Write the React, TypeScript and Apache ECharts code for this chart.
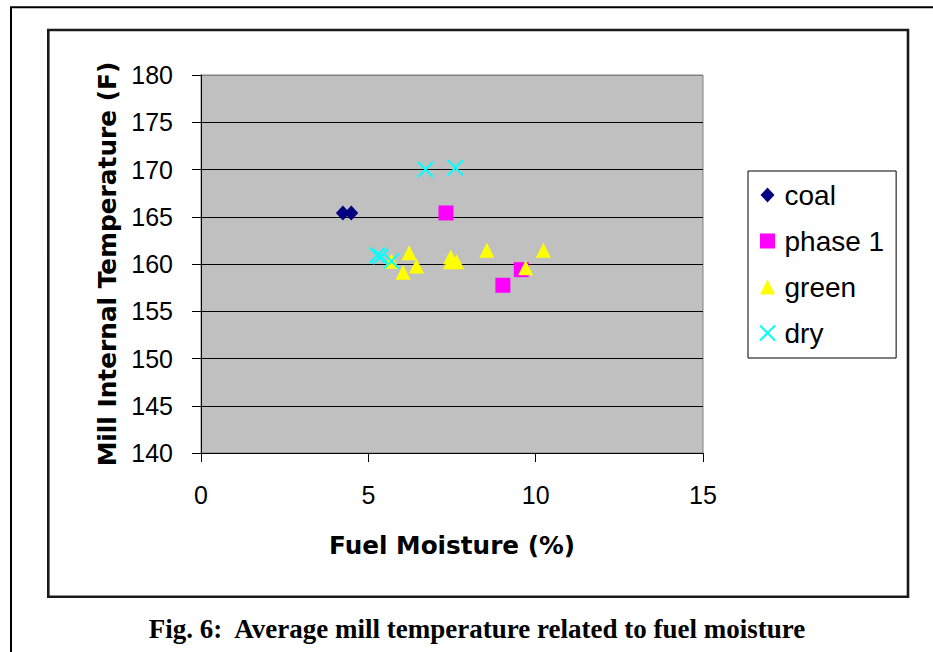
import React, { useEffect, useRef } from "react";
import * as echarts from "echarts";

// ---- data ----
const xTicks = [0, 5, 10, 15];
const yTicks = [140, 145, 150, 155, 160, 165, 170, 175, 180];

const coalX = [4.24, 4.49];
const coalY = [165.4, 165.4];

const phase1X = [7.32, 9.02, 9.57];
const phase1Y = [165.4, 157.75, 159.4];

const greenX = [5.69, 6.04, 6.22, 6.44, 7.46, 7.46, 7.64, 8.54, 9.7, 10.23];
const greenY = [160.3, 159.14, 161.2, 159.8, 160.75, 160.25, 160.25, 161.45, 159.6, 161.45];

const dryX = [5.27, 5.37, 5.69, 6.71, 7.6];
const dryY = [160.92, 160.8, 160.3, 170.0, 170.18];

const seriesNames = ["coal", "phase 1", "green", "dry"];
const caption = "Fig. 6:  Average mill temperature related to fuel moisture";
const xTitle = "Fuel Moisture (%)";
const yTitle = "Mill Internal Temperature (F)";

const pair = (xs: number[], ys: number[]) => xs.map((x, i) => [x, ys[i]]);

const CROSS = "path://M0,0L15,15M15,0L0,15";
const DIAMOND_ICON = "path://M7,0L14,7.5L7,15L0,7.5Z";
const SQUARE_ICON = "path://M0,0L15,0L15,15L0,15Z";
const TRIANGLE_ICON = "path://M7.5,0L15,15L0,15Z";

export default function App() {
  const ref = useRef<HTMLDivElement>(null);
  useEffect(() => {
    if (!ref.current) return;
    const chart = echarts.init(ref.current, null, { renderer: "svg" });
    const tickFont = "Liberation Sans";
    chart.setOption({
      animation: false,
      backgroundColor: "#ffffff",
      grid: {
        left: 201,
        top: 75,
        width: 502,
        height: 378,
        show: true,
        backgroundColor: "#c0c0c0",
        borderColor: "#808080",
        borderWidth: 1,
      },
      xAxis: {
        type: "value",
        min: xTicks[0],
        max: xTicks[xTicks.length - 1],
        interval: 5,
        name: xTitle,
        nameLocation: "middle",
        nameGap: 80,
        nameTextStyle: {
          fontFamily: "DejaVu Sans",
          fontWeight: "bold",
          fontSize: 24.7,
          color: "#000",
        },
        axisLine: { show: true, onZero: false, lineStyle: { color: "#000", width: 1 } },
        axisTick: { show: true, inside: false, length: 9, lineStyle: { color: "#000" } },
        axisLabel: { fontFamily: tickFont, fontSize: 25, color: "#000", margin: 29 },
        splitLine: { show: false },
      },
      yAxis: {
        type: "value",
        min: yTicks[0],
        max: yTicks[yTicks.length - 1],
        interval: 5,
        name: yTitle,
        nameLocation: "middle",
        nameRotate: 90,
        nameGap: 75,
        nameTextStyle: {
          fontFamily: "DejaVu Sans",
          fontWeight: "bold",
          fontSize: 24.8,
          color: "#000",
        },
        axisLine: { show: true, onZero: false, lineStyle: { color: "#000", width: 1 } },
        axisTick: { show: true, inside: false, length: 9, lineStyle: { color: "#000" } },
        axisLabel: { fontFamily: tickFont, fontSize: 25, color: "#000", margin: 28 },
        splitLine: {
          show: true,
          lineStyle: {
            color: yTicks.map((_, i) => (i === yTicks.length - 1 ? "#808080" : "#000000")),
            width: 1,
          },
        },
      },
      legend: {
        orient: "vertical",
        left: 748,
        top: 171,
        padding: [10, 12, 11, 11],
        itemGap: 18,
        itemWidth: 24,
        itemHeight: 15,
        backgroundColor: "#ffffff",
        borderColor: "#000000",
        borderWidth: 1,
        selectedMode: false,
        textStyle: { fontFamily: tickFont, fontSize: 28, color: "#000" },
        data: [
          { name: seriesNames[0], icon: DIAMOND_ICON },
          { name: seriesNames[1], icon: SQUARE_ICON },
          { name: seriesNames[2], icon: TRIANGLE_ICON },
          { name: seriesNames[3], icon: CROSS },
        ],
      },
      series: [
        {
          name: seriesNames[0],
          type: "scatter",
          symbol: "diamond",
          symbolSize: [14, 15],
          itemStyle: { color: "#000080", opacity: 1 },
          data: pair(coalX, coalY),
        },
        {
          name: seriesNames[1],
          type: "scatter",
          symbol: "rect",
          symbolSize: 15,
          itemStyle: { color: "#ff00ff", opacity: 1 },
          data: pair(phase1X, phase1Y),
        },
        {
          name: seriesNames[2],
          type: "scatter",
          symbol: "triangle",
          symbolSize: [15, 15],
          itemStyle: { color: "#ffff00", opacity: 1 },
          data: pair(greenX, greenY),
        },
        {
          name: seriesNames[3],
          type: "scatter",
          symbol: CROSS,
          symbolSize: 15,
          itemStyle: { color: "#00ffff", borderColor: "#00ffff", borderWidth: 2, opacity: 1 },
          data: pair(dryX, dryY),
        },
      ],
      graphic: [
        {
          type: "rect",
          silent: true,
          shape: { x: 11, y: 7.3, width: 1200, height: 1200 },
          style: { fill: "none", stroke: "#000", lineWidth: 2 },
        },
        {
          type: "rect",
          silent: true,
          shape: { x: 48.3, y: 30, width: 859.7, height: 566.7 },
          style: { fill: "none", stroke: "#1a1a1a", lineWidth: 2.6 },
        },
        {
          type: "text",
          silent: true,
          x: 477,
          y: 629,
          style: {
            text: caption,
            fontFamily: "Liberation Serif",
            fontWeight: "bold",
            fontSize: 27,
            fill: "#000",
            align: "center",
            verticalAlign: "middle",
          },
        },
      ],
    });
    return () => chart.dispose();
  }, []);
  return (
    <div
      ref={ref}
      style={{ position: "absolute", left: 0, top: 0, width: 933, height: 652 }}
    />
  );
}
